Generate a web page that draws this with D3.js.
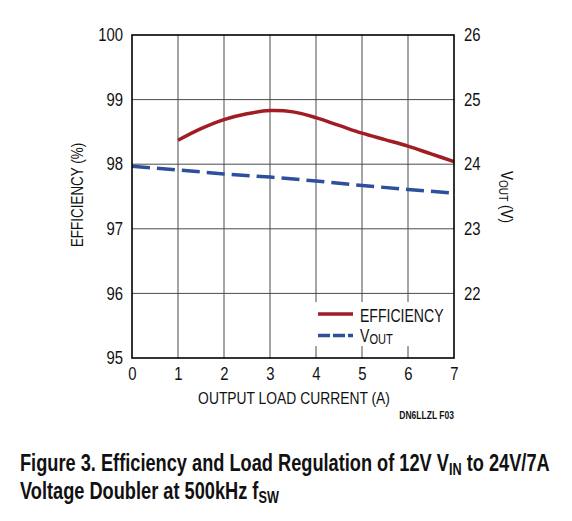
<!DOCTYPE html>
<html>
<head>
<meta charset="utf-8">
<script src="https://cdn.jsdelivr.net/npm/d3@7"></script>
<style>
  body { margin: 0; background: #fff; }
  text { font-family: "Liberation Sans", Arial, sans-serif; fill: #111; }
</style>
</head>
<body>
<div id="chart"></div>
<script>
// data
const current = [0, 1, 2, 3, 4, 5, 6, 7]
const effCurrent = [1, 1.5, 2, 2.5, 3, 3.5, 4, 4.5, 5, 5.5, 6, 6.5, 7]
const efficiency = [98.37, 98.55, 98.69, 98.78, 98.83, 98.81, 98.72, 98.6, 98.48, 98.38, 98.28, 98.16, 98.04]
const vout = [23.97, 23.91, 23.85, 23.8, 23.74, 23.67, 23.61, 23.55]
const effTicks = [95, 96, 97, 98, 99, 100]
const voutTicks = [22, 23, 24, 25, 26]

const margin = ({ top: 35, right: 118, bottom: 163, left: 132 })
const W = 572, H = 521
const width = W - margin.left - margin.right,
    height = H - margin.top - margin.bottom;

const svg0 = d3.select("#chart").append("svg")
    .attr("width", W)
    .attr("height", H)
const svg = svg0.append("g")
    .attr("transform", "translate(" + margin.left + "," + margin.top + ")");

const xScale = d3.scaleLinear().domain([0, 7]).range([0, width])
const yScale = d3.scaleLinear().domain([95, 100]).range([height, 0])
const y2Scale = d3.scaleLinear().domain([21, 26]).range([height, 0])

// squeeze a text horizontally (condensed look) - k is the x scale
function condensed(parent, x, y, k, rot) {
    return parent.append("g")
        .attr("transform", `translate(${x},${y})` + (rot ? ` rotate(${rot})` : "") + ` scale(${k},1)`)
        .append("text")
}

// grid
svg.append("g").selectAll("line")
    .data(current.slice(1, -1))
    .join("line")
    .attr("x1", d => xScale(d)).attr("x2", d => xScale(d))
    .attr("y1", 0).attr("y2", height)
    .attr("stroke", "#4a4a4a").attr("stroke-width", 1)
svg.append("g").selectAll("line")
    .data(effTicks.slice(1, -1))
    .join("line")
    .attr("y1", d => yScale(d)).attr("y2", d => yScale(d))
    .attr("x1", 0).attr("x2", width)
    .attr("stroke", "#4a4a4a").attr("stroke-width", 1)

// axes (labels only)
const xAxis = d3.axisBottom(xScale).tickValues(current).tickFormat(d3.format("d")).tickSize(0).tickPadding(10)
const yAxis = d3.axisLeft(yScale).tickValues(effTicks).tickFormat(d3.format("d")).tickSize(0).tickPadding(9)
const y2Axis = d3.axisRight(y2Scale).tickValues(voutTicks).tickFormat(d3.format("d")).tickSize(0).tickPadding(10)

svg.append("g").attr("class", "x-axis").attr("transform", `translate(0, ${height})`).call(xAxis)
svg.append("g").attr("class", "y-axis").call(yAxis)
svg.append("g").attr("class", "y2-axis").attr("transform", `translate(${width}, 0)`).call(y2Axis)
svg.selectAll(".domain").remove()
svg.selectAll(".tick text")
    .style("font-size", "17.5px")
    .style("font-family", '"Liberation Sans", Arial, sans-serif')
    .attr("fill", "#111")
    .each(function () {
        d3.select(this).attr("textLength", this.getComputedTextLength() * 0.85)
            .attr("lengthAdjust", "spacingAndGlyphs")
    })

// lines
const effLine = d3.line()
    .x((d, i) => xScale(effCurrent[i]))
    .y(d => yScale(d))
    .curve(d3.curveCatmullRom)
const voutLine = d3.line()
    .x((d, i) => xScale(current[i]))
    .y(d => y2Scale(d))

svg.append("path")
    .datum(vout)
    .attr("d", voutLine)
    .attr("fill", "none").attr("stroke", "#2e4f9c").attr("stroke-width", 3.5)
    .attr("stroke-dasharray", "18,7")
svg.append("path")
    .datum(efficiency)
    .attr("d", effLine)
    .attr("fill", "none").attr("stroke", "#a01d24").attr("stroke-width", 3.5)

// legend
const legend = svg.append("g").attr("transform", `translate(${xScale(4)}, ${yScale(95.68)})`)
legend.append("rect").attr("x", -4).attr("y", -12).attr("width", 137).attr("height", 44).attr("fill", "#fff")
legend.append("line").attr("x1", 2).attr("x2", 37).attr("y1", 0).attr("y2", 0)
    .attr("stroke", "#a01d24").attr("stroke-width", 3.5)
legend.append("line").attr("x1", 2).attr("x2", 37).attr("y1", 21.5).attr("y2", 21.5)
    .attr("stroke", "#2e4f9c").attr("stroke-width", 3.5).attr("stroke-dasharray", "12,3")
condensed(legend, 44, 7.5, 0.74).style("font-size", "19px").text("EFFICIENCY")
const lv = condensed(legend, 44, 27.5, 0.74).style("font-size", "19px")
lv.append("tspan").text("V")
lv.append("tspan").attr("dy", 2).style("font-size", "15px").text("OUT")

// frame
svg.append("rect")
    .attr("width", width).attr("height", height)
    .attr("fill", "none").attr("stroke", "#000").attr("stroke-width", 1.6)

// axis titles
condensed(svg, width / 2 + 1, height + 46, 0.84)
    .attr("text-anchor", "middle").style("font-size", "16.5px")
    .text("OUTPUT LOAD CURRENT (A)")
condensed(svg, -49, 195 - margin.top, 0.84, -90)
    .attr("text-anchor", "middle").style("font-size", "16px")
    .text("EFFICIENCY (%)")
const vt = condensed(svg, width + 47, 197 - margin.top, 0.84, 90)
    .attr("text-anchor", "middle").style("font-size", "16px")
vt.append("tspan").text("V")
vt.append("tspan").attr("dy", 2).style("font-size", "12px").text("OUT")
vt.append("tspan").attr("dy", -2).text(" (V)")
condensed(svg, width, height + 61, 0.74)
    .attr("text-anchor", "end").style("font-size", "11.5px").style("font-weight", "bold")
    .text("DN6LLZL F03")

// caption
const c1 = condensed(svg0, 20, 471, 1).style("font-size", "23px").style("font-weight", "bold")
c1.append("tspan").text("Figure 3. Efficiency and Load Regulation of 12V V")
c1.append("tspan").attr("dy", 4).style("font-size", "16px").text("IN")
c1.append("tspan").attr("dy", -4).text(" to 24V/7A")
const c2 = condensed(svg0, 20, 499, 1).style("font-size", "23px").style("font-weight", "bold")
c2.append("tspan").text("Voltage Doubler at 500kHz f")
c2.append("tspan").attr("dy", 4).style("font-size", "16px").text("SW")
// squeeze caption so the first line ends near the right edge like the figure
const capK = 530 / c1.node().getComputedTextLength()
d3.select(c1.node().parentNode).attr("transform", `translate(20,471) scale(${capK},1)`)
d3.select(c2.node().parentNode).attr("transform", `translate(20,499) scale(${capK},1)`)
</script>
</body>
</html>
